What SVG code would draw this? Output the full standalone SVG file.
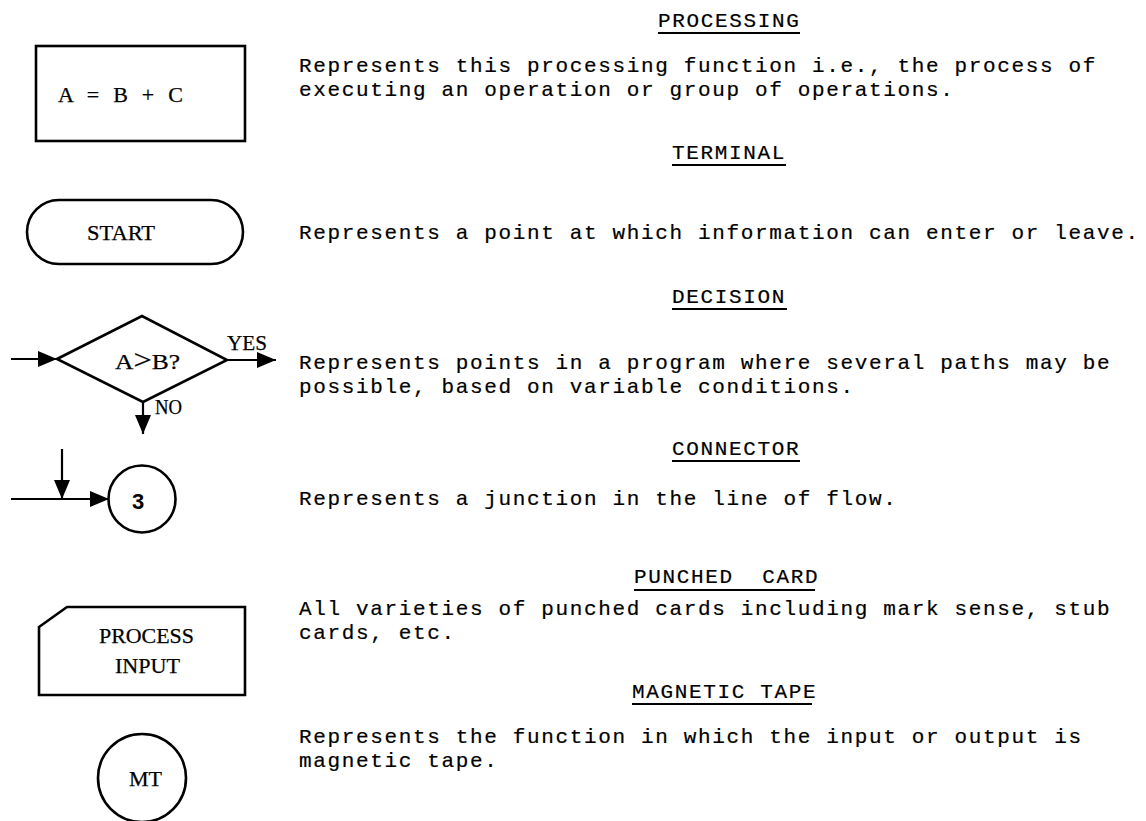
<svg xmlns="http://www.w3.org/2000/svg" width="1146" height="821" viewBox="0 0 1146 821">
<style>
.shape{fill:none;stroke:#000;stroke-width:2.6}
.lbl{font-family:"Liberation Serif","Times New Roman",serif;font-size:22px;fill:#000;stroke:#000;stroke-width:0.25}
.mono{font-family:"Liberation Mono","Courier New",monospace;font-size:21px;letter-spacing:1.65px;fill:#000;stroke:#000;stroke-width:0.2}
.ul{stroke:#000;stroke-width:2}
.conn{stroke:#000;stroke-width:2.2;fill:none;marker-end:url(#ah)}
</style>
<defs>
<marker id="ah" markerUnits="userSpaceOnUse" markerWidth="19" markerHeight="16" refX="19" refY="8" orient="auto">
<path d="M0,0 L19,8 L0,16 Z" fill="#000"/>
</marker>
</defs>
<rect width="1146" height="821" fill="#fff"/>

<g id="processing">
<rect class="shape" x="36" y="46" width="209" height="95"/>
<text class="lbl" x="58" y="102" font-size="23" textLength="125" lengthAdjust="spacing">A = B + C</text>
</g>

<g id="terminal">
<rect class="shape" x="27" y="200" width="216" height="64" rx="32" ry="32"/>
<text class="lbl" x="87" y="240" textLength="68" lengthAdjust="spacingAndGlyphs">START</text>
</g>

<g id="decision">
<polygon class="shape" points="57,359 142,316 227,360 143,402"/>
<text class="lbl" x="115" y="369" font-size="21" textLength="65" lengthAdjust="spacingAndGlyphs">A<tspan font-size="28">&gt;</tspan>B?</text>
<text class="lbl" x="227" y="350" textLength="40" lengthAdjust="spacingAndGlyphs">YES</text>
<text class="lbl" x="155" y="414" font-size="21" textLength="27" lengthAdjust="spacingAndGlyphs">NO</text>
</g>

<g id="connector">
<circle class="shape" cx="142" cy="499" r="33.5"/>
<text x="138" y="509" text-anchor="middle" font-family="'Liberation Sans',Arial,sans-serif" font-size="22" font-weight="bold">3</text>
</g>

<g id="punched-card">
<path class="shape" d="M39,627 L67,607 L245,607 L245,695 L39,695 Z"/>
<text class="lbl" x="99" y="643" textLength="95" lengthAdjust="spacingAndGlyphs">PROCESS</text>
<text class="lbl" x="115" y="673" textLength="65" lengthAdjust="spacingAndGlyphs">INPUT</text>
</g>

<g id="magnetic-tape">
<circle class="shape" cx="142" cy="778" r="44"/>
<text class="lbl" x="129" y="786" textLength="33" lengthAdjust="spacingAndGlyphs">MT</text>
</g>

<g id="connectors">
<line class="conn" x1="11" y1="359" x2="57" y2="359"/>
<line class="conn" x1="227" y1="360" x2="276" y2="360"/>
<line class="conn" x1="143" y1="402" x2="143" y2="434"/>
<line class="conn" x1="11" y1="499" x2="109" y2="499"/>
<line class="conn" x1="62" y1="449" x2="62" y2="499"/>
</g>

<g id="descriptions">
<text class="mono" x="658" y="27">PROCESSING</text>
<line class="ul" x1="658" y1="33" x2="800" y2="33"/>
<text class="mono" x="299" y="72">Represents this processing function i.e., the process of</text>
<text class="mono" x="299" y="96">executing an operation or group of operations.</text>

<text class="mono" x="672" y="159">TERMINAL</text>
<line class="ul" x1="672" y1="165" x2="786" y2="165"/>
<text class="mono" x="299" y="239">Represents a point at which information can enter or leave.</text>

<text class="mono" x="672" y="303">DECISION</text>
<line class="ul" x1="672" y1="309" x2="787" y2="309"/>
<text class="mono" x="299" y="369">Represents points in a program where several paths may be</text>
<text class="mono" x="299" y="393">possible, based on variable conditions.</text>

<text class="mono" x="672" y="455">CONNECTOR</text>
<line class="ul" x1="672" y1="461" x2="800" y2="461"/>
<text class="mono" x="299" y="505">Represents a junction in the line of flow.</text>

<text class="mono" x="634" y="583" xml:space="preserve">PUNCHED  CARD</text>
<line class="ul" x1="634" y1="590" x2="815" y2="590"/>
<text class="mono" x="299" y="615">All varieties of punched cards including mark sense, stub</text>
<text class="mono" x="299" y="639">cards, etc.</text>

<text class="mono" x="632" y="698">MAGNETIC TAPE</text>
<line class="ul" x1="632" y1="704" x2="812" y2="704"/>
<text class="mono" x="299" y="743">Represents the function in which the input or output is</text>
<text class="mono" x="299" y="767">magnetic tape.</text>
</g>
</svg>
